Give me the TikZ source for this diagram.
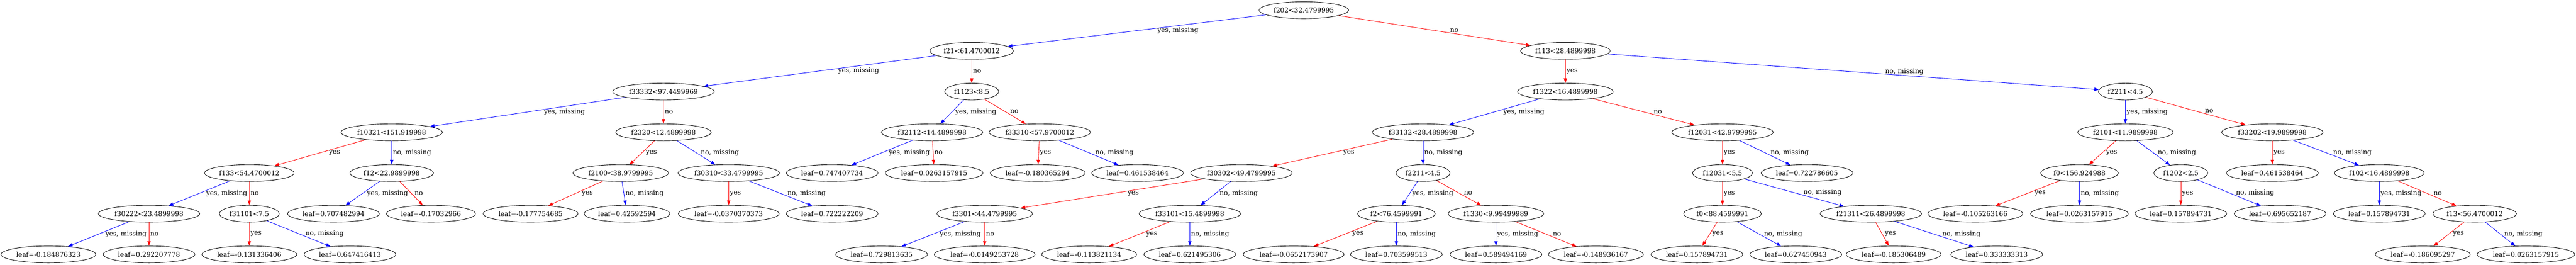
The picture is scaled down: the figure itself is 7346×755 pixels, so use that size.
\documentclass[tikz,border=0pt]{standalone}
\usepackage{fontspec}
\setmainfont{DejaVu Serif}
\usepackage{tikz}
\usetikzlibrary{shapes.geometric}
\usetikzlibrary{arrows.meta}
\usetikzlibrary{math}

\tikzset{
  treenode/.style={ellipse, draw, line width=0.37pt, inner xsep=1.15pt, inner ysep=0pt,
    minimum height=13.66pt, font=\fontsize{5.35}{6}\selectfont},
  yesno/.style={red, line width=0.37pt, -{Triangle[length=3.7pt,width=2.7pt]}},
  missing/.style={blue, line width=0.37pt, -{Triangle[length=3.7pt,width=2.7pt]}},
  lbl/.style={anchor=west, inner sep=0pt, text=black, font=\fontsize{5.35}{6}\selectfont}
}

\begin{document}
\begin{tikzpicture}[x=0.01cm,y=-0.01cm]

  \tikzmath{
    \pix = 0.2845; % one pixel of the reference, in pt
    \rA = 29;  % depth 0
    \rB = 145; % depth 1
    \rC = 261; % depth 2
    \rD = 377; % depth 3
    \rE = 493; % depth 4
    \rF = 609; % depth 5
    \rG = 725; % depth 6
  }

  \useasboundingbox (0,0) rectangle (7346,755);

  % split nodes and leaves, row by row
  \node[treenode] (n0) at (3718,\rA) {f202<32.4799995};

  \node[treenode] (n1) at (2771,\rB) {f21<61.4700012};
  \node[treenode] (n2) at (4464,\rB) {f113<28.4899998};

  \node[treenode] (n3) at (1892,\rC) {f33332<97.4499969};
  \node[treenode] (n4) at (2771,\rC) {f1123<8.5};
  \node[treenode] (n5) at (4464,\rC) {f1322<16.4899998};
  \node[treenode] (n6) at (6061,\rC) {f2211<4.5};

  \node[treenode] (n7) at (1117,\rD) {f10321<151.919998};
  \node[treenode] (n8) at (1892,\rD) {f2320<12.4899998};
  \node[treenode] (n9) at (2658,\rD) {f32112<14.4899998};
  \node[treenode] (n10) at (2965,\rD) {f33310<57.9700012};
  \node[treenode] (n11) at (4058,\rD) {f33132<28.4899998};
  \node[treenode] (n12) at (4912,\rD) {f12031<42.9799995};
  \node[treenode] (n13) at (6061,\rD) {f2101<11.9899998};
  \node[treenode] (n14) at (6480,\rD) {f33202<19.9899998};

  \node[treenode] (n15) at (711,\rE) {f133<54.4700012};
  \node[treenode] (n16) at (1117,\rE) {f12<22.9899998};
  \node[treenode] (n17) at (1770,\rE) {f2100<38.9799995};
  \node[treenode] (n18) at (2078,\rE) {f30310<33.4799995};
  \node[treenode] (n19) at (2373,\rE) {leaf=0.747407734};
  \node[treenode] (n20) at (2664,\rE) {leaf=0.0263157915};
  \node[treenode] (n21) at (2959,\rE) {leaf=-0.180365294};
  \node[treenode] (n22) at (3244,\rE) {leaf=0.461538464};
  \node[treenode] (n23) at (3540,\rE) {f30302<49.4799995};
  \node[treenode] (n24) at (4058,\rE) {f2211<4.5};
  \node[treenode] (n25) at (4912,\rE) {f12031<5.5};
  \node[treenode] (n26) at (5153,\rE) {leaf=0.722786605};
  \node[treenode] (n27) at (5930,\rE) {f0<156.924988};
  \node[treenode] (n28) at (6219,\rE) {f1202<2.5};
  \node[treenode] (n29) at (6480,\rE) {leaf=0.461538464};
  \node[treenode] (n30) at (6785,\rE) {f102<16.4899998};

  \node[treenode] (n31) at (425,\rF) {f30222<23.4899998};
  \node[treenode] (n32) at (711,\rF) {f31101<7.5};
  \node[treenode] (n33) at (951,\rF) {leaf=0.707482994};
  \node[treenode] (n34) at (1229,\rF) {leaf=-0.17032966};
  \node[treenode] (n35) at (1513,\rF) {leaf=-0.177754685};
  \node[treenode] (n36) at (1788,\rF) {leaf=0.42592594};
  \node[treenode] (n37) at (2078,\rF) {leaf=-0.0370370373};
  \node[treenode] (n38) at (2373,\rF) {leaf=0.722222209};
  \node[treenode] (n39) at (2808,\rF) {f3301<44.4799995};
  \node[treenode] (n40) at (3393,\rF) {f33101<15.4899998};
  \node[treenode] (n41) at (3982,\rF) {f2<76.4599991};
  \node[treenode] (n42) at (4266,\rF) {f1330<9.99499989};
  \node[treenode] (n43) at (4912,\rF) {f0<88.4599991};
  \node[treenode] (n44) at (5335,\rF) {f21311<26.4899998};
  \node[treenode] (n45) at (5633,\rF) {leaf=-0.105263166};
  \node[treenode] (n46) at (5930,\rF) {leaf=0.0263157915};
  \node[treenode] (n47) at (6219,\rF) {leaf=0.157894731};
  \node[treenode] (n48) at (6502,\rF) {leaf=0.695652187};
  \node[treenode] (n49) at (6785,\rF) {leaf=0.157894731};
  \node[treenode] (n50) at (7057,\rF) {f13<56.4700012};

  \node[treenode] (n51) at (138,\rG) {leaf=-0.184876323};
  \node[treenode] (n52) at (425,\rG) {leaf=0.292207778};
  \node[treenode] (n53) at (711,\rG) {leaf=-0.131336406};
  \node[treenode] (n54) at (998,\rG) {leaf=0.647416413};
  \node[treenode] (n55) at (2514,\rG) {leaf=0.729813635};
  \node[treenode] (n56) at (2808,\rG) {leaf=-0.0149253728};
  \node[treenode] (n57) at (3106,\rG) {leaf=-0.113821134};
  \node[treenode] (n58) at (3393,\rG) {leaf=0.621495306};
  \node[treenode] (n59) at (3689,\rG) {leaf=-0.0652173907};
  \node[treenode] (n60) at (3982,\rG) {leaf=0.703599513};
  \node[treenode] (n61) at (4266,\rG) {leaf=0.589494169};
  \node[treenode] (n62) at (4551,\rG) {leaf=-0.148936167};
  \node[treenode] (n63) at (4839,\rG) {leaf=0.157894731};
  \node[treenode] (n64) at (5121,\rG) {leaf=0.627450943};
  \node[treenode] (n65) at (5400,\rG) {leaf=-0.185306489};
  \node[treenode] (n66) at (5694,\rG) {leaf=0.333333313};
  \node[treenode] (n67) at (6909,\rG) {leaf=-0.186095297};
  \node[treenode] (n68) at (7203,\rG) {leaf=0.0263157915};

  % branches: blue carries the missing values, red the other side
  \draw[missing] (n0) -- node[lbl, xshift=58*\pix] {yes, missing} (n1);
  \draw[yesno] (n0) -- node[lbl, xshift=44*\pix] {no} (n2);

  \draw[missing] (n1) -- node[lbl, xshift=51*\pix] {yes, missing} (n3);
  \draw[yesno] (n1) -- node[lbl, xshift=3*\pix] {no} (n4);
  \draw[yesno] (n2) -- node[lbl, xshift=3*\pix] {yes} (n5);
  \draw[missing] (n2) -- node[lbl, xshift=91*\pix] {no, missing} (n6);

  \draw[missing] (n3) -- node[lbl, xshift=46*\pix] {yes, missing} (n7);
  \draw[yesno] (n3) -- node[lbl, xshift=3*\pix] {no} (n8);
  \draw[missing] (n4) -- node[lbl, xshift=9*\pix] {yes, missing} (n9);
  \draw[yesno] (n4) -- node[lbl, xshift=14*\pix] {no} (n10);
  \draw[missing] (n5) -- node[lbl, xshift=25*\pix] {yes, missing} (n11);
  \draw[yesno] (n5) -- node[lbl, xshift=28*\pix] {no} (n12);
  \draw[missing] (n6) -- node[lbl, xshift=3*\pix] {yes, missing} (n13);
  \draw[yesno] (n6) -- node[lbl, xshift=26*\pix] {no} (n14);

  \draw[yesno] (n7) -- node[lbl, xshift=25*\pix] {yes} (n15);
  \draw[missing] (n7) -- node[lbl, xshift=3*\pix] {no, missing} (n16);
  \draw[yesno] (n8) -- node[lbl, xshift=10*\pix] {yes} (n17);
  \draw[missing] (n8) -- node[lbl, xshift=13*\pix] {no, missing} (n18);
  \draw[missing] (n9) -- node[lbl, xshift=19*\pix] {yes, missing} (n19);
  \draw[yesno] (n9) -- node[lbl, xshift=3*\pix] {no} (n20);
  \draw[yesno] (n10) -- node[lbl, xshift=3*\pix] {yes} (n21);
  \draw[missing] (n10) -- node[lbl, xshift=18*\pix] {no, missing} (n22);
  \draw[yesno] (n11) -- node[lbl, xshift=31*\pix] {yes} (n23);
  \draw[missing] (n11) -- node[lbl, xshift=3*\pix] {no, missing} (n24);
  \draw[yesno] (n12) -- node[lbl, xshift=3*\pix] {yes} (n25);
  \draw[missing] (n12) -- node[lbl, xshift=16*\pix] {no, missing} (n26);
  \draw[yesno] (n13) -- node[lbl, xshift=10*\pix] {yes} (n27);
  \draw[missing] (n13) -- node[lbl, xshift=12*\pix] {no, missing} (n28);
  \draw[yesno] (n14) -- node[lbl, xshift=3*\pix] {yes} (n29);
  \draw[missing] (n14) -- node[lbl, xshift=20*\pix] {no, missing} (n30);

  \draw[missing] (n15) -- node[lbl, xshift=19*\pix] {yes, missing} (n31);
  \draw[yesno] (n15) -- node[lbl, xshift=3*\pix] {no} (n32);
  \draw[missing] (n16) -- node[lbl, xshift=12*\pix] {yes, missing} (n33);
  \draw[yesno] (n16) -- node[lbl, xshift=9*\pix] {no} (n34);
  \draw[yesno] (n17) -- node[lbl, xshift=17*\pix] {yes} (n35);
  \draw[missing] (n17) -- node[lbl, xshift=4*\pix] {no, missing} (n36);
  \draw[yesno] (n18) -- node[lbl, xshift=3*\pix] {yes} (n37);
  \draw[missing] (n18) -- node[lbl, xshift=19*\pix] {no, missing} (n38);
  \draw[yesno] (n23) -- node[lbl, xshift=43*\pix] {yes} (n39);
  \draw[missing] (n23) -- node[lbl, xshift=11*\pix] {no, missing} (n40);
  \draw[missing] (n24) -- node[lbl, xshift=7*\pix] {yes, missing} (n41);
  \draw[yesno] (n24) -- node[lbl, xshift=14*\pix] {no} (n42);
  \draw[yesno] (n25) -- node[lbl, xshift=3*\pix] {yes} (n43);
  \draw[missing] (n25) -- node[lbl, xshift=26*\pix] {no, missing} (n44);
  \draw[yesno] (n27) -- node[lbl, xshift=19*\pix] {yes} (n45);
  \draw[missing] (n27) -- node[lbl, xshift=3*\pix] {no, missing} (n46);
  \draw[yesno] (n28) -- node[lbl, xshift=3*\pix] {yes} (n47);
  \draw[missing] (n28) -- node[lbl, xshift=19*\pix] {no, missing} (n48);
  \draw[missing] (n30) -- node[lbl, xshift=3*\pix] {yes, missing} (n49);
  \draw[yesno] (n30) -- node[lbl, xshift=18*\pix] {no} (n50);

  \draw[missing] (n31) -- node[lbl, xshift=19*\pix] {yes, missing} (n51);
  \draw[yesno] (n31) -- node[lbl, xshift=3*\pix] {no} (n52);
  \draw[yesno] (n32) -- node[lbl, xshift=3*\pix] {yes} (n53);
  \draw[missing] (n32) -- node[lbl, xshift=19*\pix] {no, missing} (n54);
  \draw[missing] (n39) -- node[lbl, xshift=19*\pix] {yes, missing} (n55);
  \draw[yesno] (n39) -- node[lbl, xshift=3*\pix] {no} (n56);
  \draw[yesno] (n40) -- node[lbl, xshift=19*\pix] {yes} (n57);
  \draw[missing] (n40) -- node[lbl, xshift=3*\pix] {no, missing} (n58);
  \draw[yesno] (n41) -- node[lbl, xshift=19*\pix] {yes} (n59);
  \draw[missing] (n41) -- node[lbl, xshift=3*\pix] {no, missing} (n60);
  \draw[missing] (n42) -- node[lbl, xshift=3*\pix] {yes, missing} (n61);
  \draw[yesno] (n42) -- node[lbl, xshift=19*\pix] {no} (n62);
  \draw[yesno] (n43) -- node[lbl, xshift=7*\pix] {yes} (n63);
  \draw[missing] (n43) -- node[lbl, xshift=14*\pix] {no, missing} (n64);
  \draw[yesno] (n44) -- node[lbl, xshift=7*\pix] {yes} (n65);
  \draw[missing] (n44) -- node[lbl, xshift=23*\pix] {no, missing} (n66);
  \draw[yesno] (n50) -- node[lbl, xshift=11*\pix] {yes} (n67);
  \draw[missing] (n50) -- node[lbl, xshift=11*\pix] {no, missing} (n68);

\end{tikzpicture}
\end{document}
